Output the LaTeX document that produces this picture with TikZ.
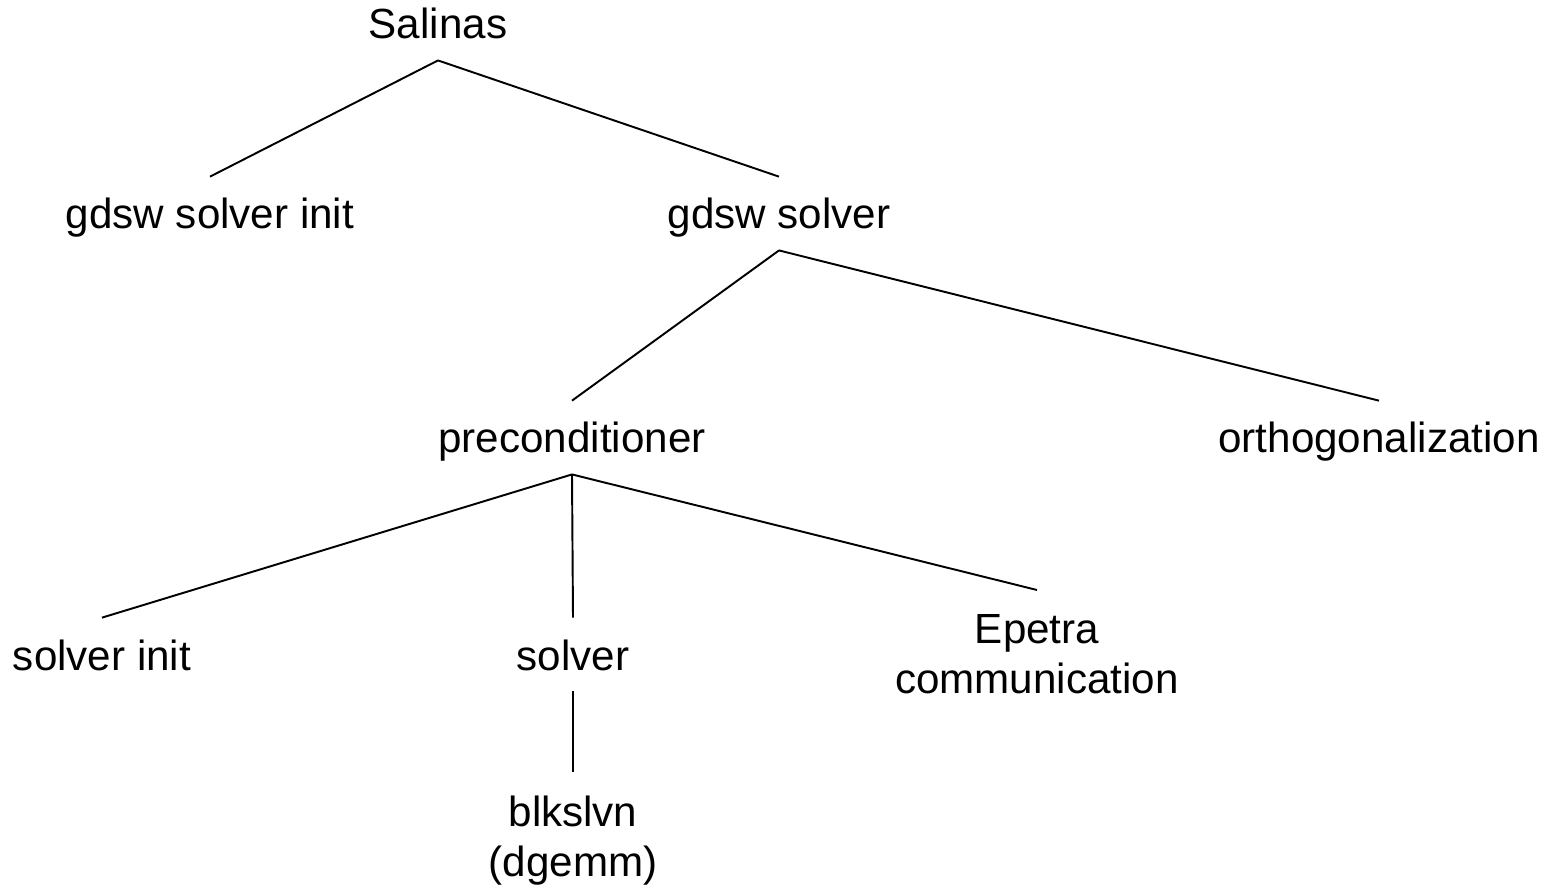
\documentclass[tikz,border=0pt]{standalone}
\usepackage{fontspec}
\setmainfont{Liberation Sans}
\begin{document}
\begin{tikzpicture}[x=0.02cm, y=-0.02cm,
    item/.style={font=\fontsize{24}{28.5}\selectfont, align=center, anchor=base,
      inner sep=3pt, text height=26.6pt, text depth=9pt},
    twoline/.style={font=\fontsize{24}{28.5}\selectfont, align=center, anchor=north,
      inner xsep=3pt, inner ysep=13.5pt},
    link/.style={line width=1.1pt}]
    % Keep the page the same size as the original
    \useasboundingbox (0,0) rectangle (1560,885);

    % Tree nodes (single lines sit on their baseline)
    \node[item] (salinas) at (438,39) {Salinas};
    \node[item] (gdswinit) at (210,229) {gdsw solver init};
    \node[item] (gdsw) at (779,229) {gdsw solver};
    \node[item] (precond) at (572,453) {preconditioner};
    \node[item] (ortho) at (1379,453) {orthogonalization};
    \node[item] (solverinit) at (102,670) {solver init};
    \node[item] (solver) at (573,670) {solver};
    % two-line nodes hang from the end of their connector
    \node[twoline] (epetra) at (1037,590) {Epetra\\communication};
    \node[twoline] (blkslvn) at (573,772) {blkslvn\\(dgemm)};

    % Connectors
    \draw[link] (salinas.south) -- (gdswinit.north);
    \draw[link] (salinas.south) -- (gdsw.north);
    \draw[link] (gdsw.south) -- (precond.north);
    \draw[link] (gdsw.south) -- (ortho.north);
    \foreach \child in {solverinit, solver, epetra}
      \draw[link] (precond.south) -- (\child.north);
    \draw[link] (solver.south) -- (blkslvn.north);
\end{tikzpicture}
\end{document}
